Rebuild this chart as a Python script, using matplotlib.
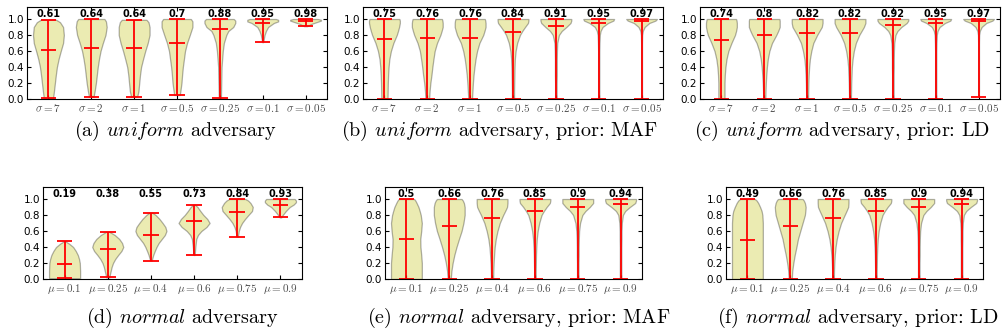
import numpy as np
import matplotlib.pyplot as plt

plt.rcParams['mathtext.fontset'] = 'cm'
plt.rcParams['font.family'] = 'DejaVu Sans'

SIGMA_TICKS = [r'$\sigma=7$', r'$\sigma=2$', r'$\sigma=1$', r'$\sigma=0.5$',
               r'$\sigma=0.25$', r'$\sigma=0.1$', r'$\sigma=0.05$']
MU_TICKS = [r'$\mu=0.1$', r'$\mu=0.25$', r'$\mu=0.4$', r'$\mu=0.6$',
            r'$\mu=0.75$', r'$\mu=0.9$']

CAPTIONS = [r'(a) $\mathit{uniform}$ adversary',
            r'(b) $\mathit{uniform}$ adversary, prior: MAF',
            r'(c) $\mathit{uniform}$ adversary, prior: LD',
            r'(d) $\mathit{normal}$ adversary',
            r'(e) $\mathit{normal}$ adversary, prior: MAF',
            r'(f) $\mathit{normal}$ adversary, prior: LD']

# common y-levels at which violin widths were read (panels b, c, e, f)
LEVELS = [0, 0.1, 0.2, 0.3, 0.4, 0.5, 0.6, 0.7, 0.8, 0.85, 0.9, 0.95, 0.98, 1.0]

# (a) uniform adversary
A_MEAN = [0.61, 0.64, 0.64, 0.7, 0.88, 0.95, 0.98]
A_MIN = [0.01, 0.03, 0.03, 0.05, 0.01, 0.71, 0.91]
A_MAX = [0.99, 1.0, 0.99, 1.0, 1.0, 1.0, 1.0]
A_LEVELS = [
    [0.01, 0.1, 0.2, 0.3, 0.4, 0.5, 0.6, 0.7, 0.8, 0.9, 0.96, 0.99],
    [0.03, 0.1, 0.2, 0.3, 0.4, 0.5, 0.6, 0.7, 0.8, 0.9, 0.97, 1.0],
    [0.03, 0.1, 0.2, 0.3, 0.4, 0.5, 0.6, 0.7, 0.8, 0.9, 0.96, 0.99],
    [0.05, 0.1, 0.2, 0.3, 0.4, 0.5, 0.6, 0.7, 0.8, 0.9, 0.97, 1.0],
    [0.01, 0.2, 0.4, 0.5, 0.6, 0.7, 0.8, 0.85, 0.9, 0.95, 0.98, 1.0],
    [0.71, 0.75, 0.8, 0.85, 0.9, 0.95, 0.97, 0.99, 1.0],
    [0.91, 0.92, 0.94, 0.96, 0.98, 0.99, 1.0],
]
A_WIDTH = [
    [0.3, 0.36, 0.42, 0.48, 0.55, 0.66, 0.8, 0.95, 1.0, 0.95, 0.75, 0.5],
    [0.15, 0.22, 0.3, 0.36, 0.42, 0.5, 0.6, 0.75, 0.92, 1.0, 0.95, 0.85],
    [0.2, 0.28, 0.33, 0.38, 0.45, 0.58, 0.72, 0.88, 1.0, 1.0, 0.93, 0.8],
    [0.18, 0.22, 0.29, 0.33, 0.38, 0.45, 0.52, 0.65, 0.83, 1.0, 1.0, 0.9],
    [0.07, 0.09, 0.11, 0.15, 0.19, 0.26, 0.42, 0.55, 0.87, 1.0, 1.0, 0.9],
    [0.03, 0.07, 0.12, 0.21, 0.35, 0.72, 1.0, 1.0, 0.85],
    [0.1, 0.2, 0.4, 0.7, 1.0, 1.0, 0.8],
]

# (b) uniform adversary, prior: MAF
B_MEAN = [0.75, 0.76, 0.76, 0.84, 0.91, 0.95, 0.97]
B_MIN = [0, 0, 0, 0, 0, 0, 0]
B_MAX = [1.0, 1.0, 1.0, 1.0, 1.0, 1.0, 1.0]
B_WIDTH = [
    [0.2, 0.21, 0.22, 0.24, 0.27, 0.32, 0.42, 0.58, 0.8, 0.88, 0.95, 1.0, 1.0, 0.97],
    [0.12, 0.15, 0.2, 0.27, 0.33, 0.4, 0.48, 0.63, 0.85, 0.93, 1.0, 1.0, 0.98, 0.95],
    [0.12, 0.15, 0.18, 0.22, 0.28, 0.35, 0.45, 0.6, 0.85, 0.93, 1.0, 1.0, 0.98, 0.95],
    [0.07, 0.07, 0.08, 0.09, 0.1, 0.12, 0.17, 0.27, 0.45, 0.6, 0.78, 0.97, 1.0, 1.0],
    [0.05, 0.05, 0.05, 0.06, 0.06, 0.06, 0.07, 0.09, 0.2, 0.38, 0.68, 0.95, 1.0, 1.0],
    [0.04, 0.04, 0.04, 0.04, 0.04, 0.04, 0.04, 0.05, 0.07, 0.12, 0.25, 0.6, 0.95, 1.0],
    [0.03, 0.03, 0.03, 0.03, 0.03, 0.03, 0.03, 0.03, 0.04, 0.08, 0.2, 0.5, 0.9, 1.0],
]

# (c) uniform adversary, prior: LD
C_MEAN = [0.74, 0.8, 0.82, 0.82, 0.92, 0.95, 0.97]
C_MIN = [0, 0, 0, 0, 0, 0, 0.03]
C_MAX = [1.0, 1.0, 1.0, 1.0, 1.0, 1.0, 1.0]
C_WIDTH = [
    [0.2, 0.2, 0.2, 0.22, 0.26, 0.33, 0.45, 0.65, 0.88, 0.95, 1.0, 1.0, 0.98, 0.95],
    [0.07, 0.08, 0.1, 0.13, 0.17, 0.23, 0.33, 0.5, 0.78, 0.9, 1.0, 1.0, 1.0, 0.98],
    [0.06, 0.07, 0.08, 0.1, 0.13, 0.18, 0.27, 0.4, 0.65, 0.8, 0.95, 1.0, 1.0, 1.0],
    [0.06, 0.07, 0.08, 0.1, 0.12, 0.17, 0.25, 0.38, 0.6, 0.75, 0.9, 1.0, 1.0, 1.0],
    [0.05, 0.05, 0.05, 0.05, 0.06, 0.06, 0.07, 0.09, 0.17, 0.3, 0.55, 0.9, 1.0, 1.0],
    [0.04, 0.04, 0.04, 0.04, 0.04, 0.04, 0.04, 0.05, 0.07, 0.12, 0.25, 0.6, 0.95, 1.0],
    [0.02, 0.03, 0.03, 0.03, 0.03, 0.03, 0.03, 0.03, 0.04, 0.08, 0.2, 0.5, 0.9, 1.0],
]

# (d) normal adversary
D_MEAN = [0.19, 0.38, 0.55, 0.73, 0.84, 0.93]
D_MIN = [0.01, 0.02, 0.23, 0.3, 0.53, 0.77]
D_MAX = [0.47, 0.59, 0.83, 0.93, 1.0, 1.0]
D_LEVELS = [
    [0.01, 0.1, 0.2, 0.25, 0.3, 0.35, 0.4, 0.44, 0.47],
    [0.02, 0.05, 0.1, 0.15, 0.2, 0.25, 0.3, 0.35, 0.4, 0.45, 0.5, 0.55, 0.59],
    [0.23, 0.3, 0.35, 0.4, 0.45, 0.5, 0.55, 0.6, 0.65, 0.7, 0.75, 0.8, 0.83],
    [0.3, 0.4, 0.5, 0.55, 0.6, 0.65, 0.7, 0.75, 0.8, 0.85, 0.9, 0.93],
    [0.53, 0.6, 0.65, 0.7, 0.75, 0.8, 0.85, 0.9, 0.95, 0.98, 1.0],
    [0.77, 0.8, 0.85, 0.9, 0.93, 0.96, 0.98, 1.0],
]
D_WIDTH = [
    [1.0, 1.0, 0.98, 0.93, 0.85, 0.72, 0.55, 0.3, 0.06],
    [0.1, 0.13, 0.19, 0.25, 0.34, 0.48, 0.67, 0.88, 1.0, 0.92, 0.74, 0.45, 0.1],
    [0.05, 0.15, 0.25, 0.36, 0.5, 0.7, 0.9, 1.0, 0.93, 0.75, 0.55, 0.3, 0.08],
    [0.04, 0.08, 0.14, 0.25, 0.47, 0.8, 1.0, 0.85, 0.6, 0.4, 0.22, 0.05],
    [0.04, 0.1, 0.18, 0.31, 0.5, 0.72, 0.95, 1.0, 0.85, 0.7, 0.52],
    [0.05, 0.15, 0.35, 0.6, 0.85, 1.0, 1.0, 0.92],
]

# (e) normal adversary, prior: MAF
E_MEAN = [0.5, 0.66, 0.76, 0.85, 0.9, 0.94]
E_MIN = [0, 0, 0, 0, 0, 0]
E_MAX = [1.0, 1.0, 1.0, 1.0, 1.0, 1.0]
E_WIDTH = [
    [1.0, 1.0, 1.0, 0.96, 0.91, 0.9, 0.96, 1.0, 0.93, 0.86, 0.78, 0.66, 0.58, 0.5],
    [0.1, 0.14, 0.22, 0.33, 0.47, 0.63, 0.8, 0.92, 1.0, 1.0, 1.0, 0.95, 0.88, 0.8],
    [0.07, 0.08, 0.1, 0.13, 0.17, 0.24, 0.35, 0.5, 0.72, 0.85, 0.97, 1.0, 1.0, 1.0],
    [0.05, 0.05, 0.06, 0.07, 0.09, 0.12, 0.18, 0.28, 0.43, 0.58, 0.76, 0.97, 1.0, 1.0],
    [0.05, 0.05, 0.05, 0.06, 0.06, 0.07, 0.09, 0.15, 0.3, 0.5, 0.78, 1.0, 1.0, 1.0],
    [0.05, 0.05, 0.05, 0.05, 0.05, 0.06, 0.06, 0.08, 0.15, 0.3, 0.6, 0.95, 1.0, 1.0],
]

# (f) normal adversary, prior: LD
F_MEAN = [0.49, 0.66, 0.76, 0.85, 0.9, 0.94]
F_MIN = [0, 0, 0, 0, 0, 0]
F_MAX = [1.0, 1.0, 1.0, 1.0, 1.0, 1.0]
F_WIDTH = [
    [1.0, 1.0, 1.0, 1.0, 1.0, 1.0, 1.0, 1.0, 0.97, 0.92, 0.82, 0.7, 0.6, 0.48],
    [0.1, 0.13, 0.2, 0.29, 0.4, 0.5, 0.65, 0.8, 0.95, 0.98, 1.0, 0.95, 0.88, 0.8],
    [0.05, 0.06, 0.08, 0.11, 0.16, 0.24, 0.36, 0.52, 0.75, 0.87, 0.98, 1.0, 1.0, 1.0],
    [0.05, 0.05, 0.06, 0.07, 0.09, 0.12, 0.18, 0.28, 0.43, 0.58, 0.76, 0.97, 1.0, 1.0],
    [0.05, 0.05, 0.05, 0.06, 0.06, 0.07, 0.09, 0.15, 0.3, 0.5, 0.78, 1.0, 1.0, 1.0],
    [0.05, 0.05, 0.05, 0.05, 0.05, 0.06, 0.06, 0.08, 0.15, 0.3, 0.6, 0.95, 1.0, 1.0],
]

W, H = 1002, 334


def px_axes(fig, x0, x1, y0, y1):
    return fig.add_axes([x0 / W, 1 - y1 / H, (x1 - x0) / W, (y1 - y0) / H])


def draw(ax, means, mins, maxs, levels, widths, ticks):
    stats = []
    for m, lo, hi, lv, w in zip(means, mins, maxs, levels, widths):
        stats.append(dict(coords=np.clip(lv, lo, hi), vals=np.array(w),
                          mean=m, median=m, min=lo, max=hi))
    pos = np.arange(1, len(means) + 1)
    parts = ax.violin(stats, positions=pos, widths=0.72,
                      showmeans=True, showextrema=True)
    for body in parts['bodies']:
        body.set_facecolor('y')
        body.set_edgecolor('k')
        body.set_alpha(0.3)
        body.set_linewidth(0.9)
    for key in ('cmeans', 'cmins', 'cmaxes', 'cbars'):
        parts[key].set_color('red')
        parts[key].set_linewidth(1.3)
    for p, m in zip(pos, means):
        ax.text(p, 1.068, f'{m:g}', ha='center', va='center',
                fontsize=7, fontweight='bold')
    ax.set_xlim(0.5, len(means) + 0.5)
    ax.set_ylim(0, 1.15)
    ax.set_yticks([0, 0.2, 0.4, 0.6, 0.8, 1.0])
    ax.set_xticks(pos, ticks)
    ax.tick_params(direction='in', top=True, right=True, length=3, pad=2)
    ax.tick_params(axis='y', labelsize=7.5)
    ax.tick_params(axis='x', labelsize=8, labelcolor='0.3')


fig = plt.figure(figsize=(W / 100, H / 100), dpi=100)

ax = px_axes(fig, 27, 327, 7, 99)
draw(ax, A_MEAN, A_MIN, A_MAX, A_LEVELS, A_WIDTH, SIGMA_TICKS)
ax = px_axes(fig, 363, 663, 7, 99)
draw(ax, B_MEAN, B_MIN, B_MAX, [LEVELS] * 7, B_WIDTH, SIGMA_TICKS)
ax = px_axes(fig, 700, 1000, 7, 99)
draw(ax, C_MEAN, C_MIN, C_MAX, [LEVELS] * 7, C_WIDTH, SIGMA_TICKS)

ax = px_axes(fig, 43, 302, 187, 279)
draw(ax, D_MEAN, D_MIN, D_MAX, D_LEVELS, D_WIDTH, MU_TICKS)
ax = px_axes(fig, 385, 642, 187, 279)
draw(ax, E_MEAN, E_MIN, E_MAX, [LEVELS] * 6, E_WIDTH, MU_TICKS)
ax = px_axes(fig, 726, 983, 187, 279)
draw(ax, F_MEAN, F_MIN, F_MAX, [LEVELS] * 6, F_WIDTH, MU_TICKS)

# subfigure captions
cap_xy = [(175, 131), (500, 131), (842, 131), (182, 318), (519, 318), (858, 318)]
for (cx, cy), text in zip(cap_xy, CAPTIONS):
    fig.text(cx / W, 1 - cy / H, text, ha='center', va='center',
             fontfamily='cmr10', fontsize=14.5)

fig.savefig('out.png', dpi=100)
